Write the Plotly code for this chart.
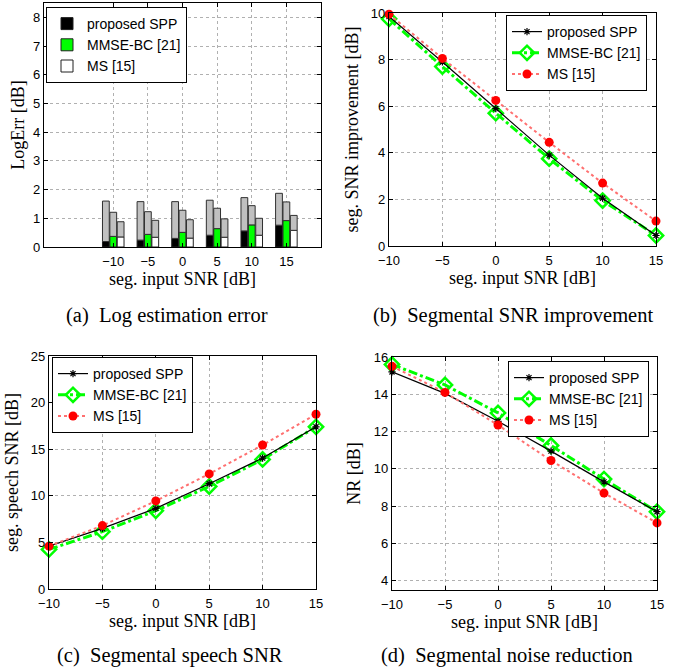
import plotly.graph_objects as go

# ---------------- data ----------------
snr = [-10, -5, 0, 5, 10, 15]
snr_ticks = ["−10", "−5", "0", "5", "10", "15"]

# (a) log estimation error: lower (coloured) part and total bar height
spp_low = [0.19, 0.24, 0.30, 0.41, 0.56, 0.76]
spp_total = [1.60, 1.58, 1.58, 1.63, 1.72, 1.87]
mmse_low = [0.37, 0.44, 0.51, 0.64, 0.77, 0.92]
mmse_total = [1.21, 1.23, 1.28, 1.35, 1.44, 1.57]
ms_low = [0.35, 0.34, 0.31, 0.34, 0.41, 0.58]
ms_total = [0.88, 0.93, 0.95, 0.98, 1.00, 1.10]

# (b) segmental SNR improvement
impr_spp = [9.85, 7.90, 5.90, 3.90, 2.05, 0.45]
impr_mmse = [9.75, 7.70, 5.70, 3.75, 1.95, 0.45]
impr_ms = [9.95, 8.05, 6.25, 4.45, 2.70, 1.07]

# (c) segmental speech SNR
sp_spp = [4.60, 6.50, 8.65, 11.30, 14.05, 17.40]
sp_mmse = [4.25, 6.15, 8.40, 11.00, 13.90, 17.40]
sp_ms = [4.60, 6.80, 9.45, 12.35, 15.45, 18.75]

# (d) segmental noise reduction
nr_spp = [15.20, 14.05, 12.55, 10.95, 9.30, 7.70]
nr_mmse = [15.60, 14.50, 13.00, 11.25, 9.45, 7.70]
nr_ms = [15.50, 14.10, 12.35, 10.45, 8.70, 7.10]

names = ["proposed SPP", "MMSE-BC [21]", "MS [15]"]
captions = ["(a)  Log estimation error", "(b)  Segmental SNR improvement",
            "(c)  Segmental speech SNR", "(d)  Segmental noise reduction"]

# ---------------- layout helpers ----------------
W, H = 685, 672


def fx(px):
    return px / W


def fy(py):
    return 1 - py / H


SANS = "Liberation Sans"
SERIF = "Liberation Serif"

fig = go.Figure()

# ---------------- (a) bars ----------------
low_sets = [spp_low, mmse_low, ms_low]
tot_sets = [spp_total, mmse_total, ms_total]
fill_cols = ["#000000", "#00ff00", "#ffffff"]
for i in range(3):
    fig.add_trace(go.Bar(
        x=snr, y=low_sets[i], name=names[i], offsetgroup=str(i),
        marker=dict(color=fill_cols[i], line=dict(color="#202020", width=1)),
        xaxis="x", yaxis="y", legend="legend", legendrank=i + 1))
    fig.add_trace(go.Bar(
        x=snr, y=[t - l for t, l in zip(tot_sets[i], low_sets[i])],
        base=low_sets[i], offsetgroup=str(i), showlegend=False,
        marker=dict(color="#c0c0c0", line=dict(color="#303030", width=1)),
        xaxis="x", yaxis="y"))


# ---------------- line panels ----------------
def add_lines(spp, mmse, ms, xa, ya, leg):
    fig.add_trace(go.Scatter(
        x=snr, y=mmse, name=names[1], mode="lines+markers",
        line=dict(color="#00ff00", width=3, dash="dashdot"),
        marker=dict(symbol="diamond-open", size=11, color="#00ff00",
                    line=dict(width=2.5, color="#00ff00")),
        cliponaxis=False, xaxis=xa, yaxis=ya, legend=leg, legendrank=2))
    fig.add_trace(go.Scatter(
        x=snr, y=spp, name=names[0], mode="lines+markers",
        line=dict(color="#000000", width=1.2),
        marker=dict(symbol="asterisk-open", size=6, color="#000000",
                    line=dict(width=1.2, color="#000000")),
        cliponaxis=False, xaxis=xa, yaxis=ya, legend=leg, legendrank=1))
    fig.add_trace(go.Scatter(
        x=snr, y=ms, name=names[2], mode="lines+markers",
        line=dict(color="#ff7070", width=2, dash="dot"),
        marker=dict(symbol="circle", size=9, color="#ff0000"),
        cliponaxis=False, xaxis=xa, yaxis=ya, legend=leg, legendrank=3))


add_lines(impr_spp, impr_mmse, impr_ms, "x2", "y2", "legend2")
add_lines(sp_spp, sp_mmse, sp_ms, "x3", "y3", "legend3")
add_lines(nr_spp, nr_mmse, nr_ms, "x4", "y4", "legend4")

# ---------------- axes ----------------
tickfont = dict(family=SANS, size=13, color="black")
titlefont = dict(family=SERIF, size=18, color="black")
common = dict(showline=True, linecolor="black", linewidth=1.2, mirror="ticks",
              ticks="inside", ticklen=4, tickcolor="black", showgrid=True,
              gridcolor="#b0b0b0", griddash="dot", gridwidth=1, zeroline=False,
              tickfont=tickfont, automargin=False)

xtitle = dict(text="seg. input SNR [dB]", font=titlefont, standoff=3)


def ax_x(dom, rng):
    return dict(domain=[fx(dom[0]), fx(dom[1])], range=rng, tickvals=snr,
                ticktext=snr_ticks, title=xtitle, ticklabelstandoff=2, **common)


def ax_y(dom, rng, dt, title, xa, standoff):
    return dict(domain=[fy(dom[1]), fy(dom[0])], range=rng, dtick=dt, tick0=0,
                anchor=xa, title=dict(text=title, font=titlefont, standoff=standoff),
                **common)


fig.update_layout(
    width=W, height=H, margin=dict(l=0, r=0, t=0, b=0, autoexpand=False),
    paper_bgcolor="white", plot_bgcolor="white",
    barmode="group", bargap=0.36, bargroupgap=0.08,
    xaxis=dict(anchor="y", **ax_x((44, 321), [-20, 20])),
    yaxis=ax_y((3, 247), [0, 8.5], 1, "LogErr [dB]", "x", 3),
    xaxis2=dict(anchor="y2", **ax_x((389, 656), [-10, 15])),
    yaxis2=ax_y((13, 246), [0, 10], 2, "seg. SNR improvement [dB]", "x2", 7),
    xaxis3=dict(anchor="y3", **ax_x((49, 316), [-10, 15])),
    yaxis3=ax_y((356, 589), [0, 25], 5, "seg. speech SNR [dB]", "x3", 7),
    xaxis4=dict(anchor="y4", **ax_x((392, 657), [-10, 15])),
    yaxis4=ax_y((357, 590), [3.5, 16], 2, "NR [dB]", "x4", 8),
)

legfont = dict(family=SANS, size=14, color="black")
legcommon = dict(font=legfont, bgcolor="white", bordercolor="black", borderwidth=1,
                 xanchor="left", yanchor="top", tracegroupgap=0, itemwidth=30,
                 xref="paper", yref="paper")
fig.update_layout(
    legend=dict(x=fx(46), y=fy(7), **legcommon),
    legend2=dict(x=fx(506), y=fy(15), **legcommon),
    legend3=dict(x=fx(52), y=fy(357), **legcommon),
    legend4=dict(x=fx(508), y=fy(361), **legcommon),
)

# ---------------- captions ----------------
cap_pos = [(167, 315), (513, 315), (170, 655), (507, 655)]
for txt, (cx, cy) in zip(captions, cap_pos):
    fig.add_annotation(text=txt, x=fx(cx), y=fy(cy), xref="paper", yref="paper",
                       showarrow=False, xanchor="center", yanchor="middle",
                       font=dict(family=SERIF, size=20.5, color="black"))

fig.write_html(
    "out.html",
    config={"displayModeBar": False},
    post_script="document.body.style.margin='0';document.body.style.padding='0';",
)
